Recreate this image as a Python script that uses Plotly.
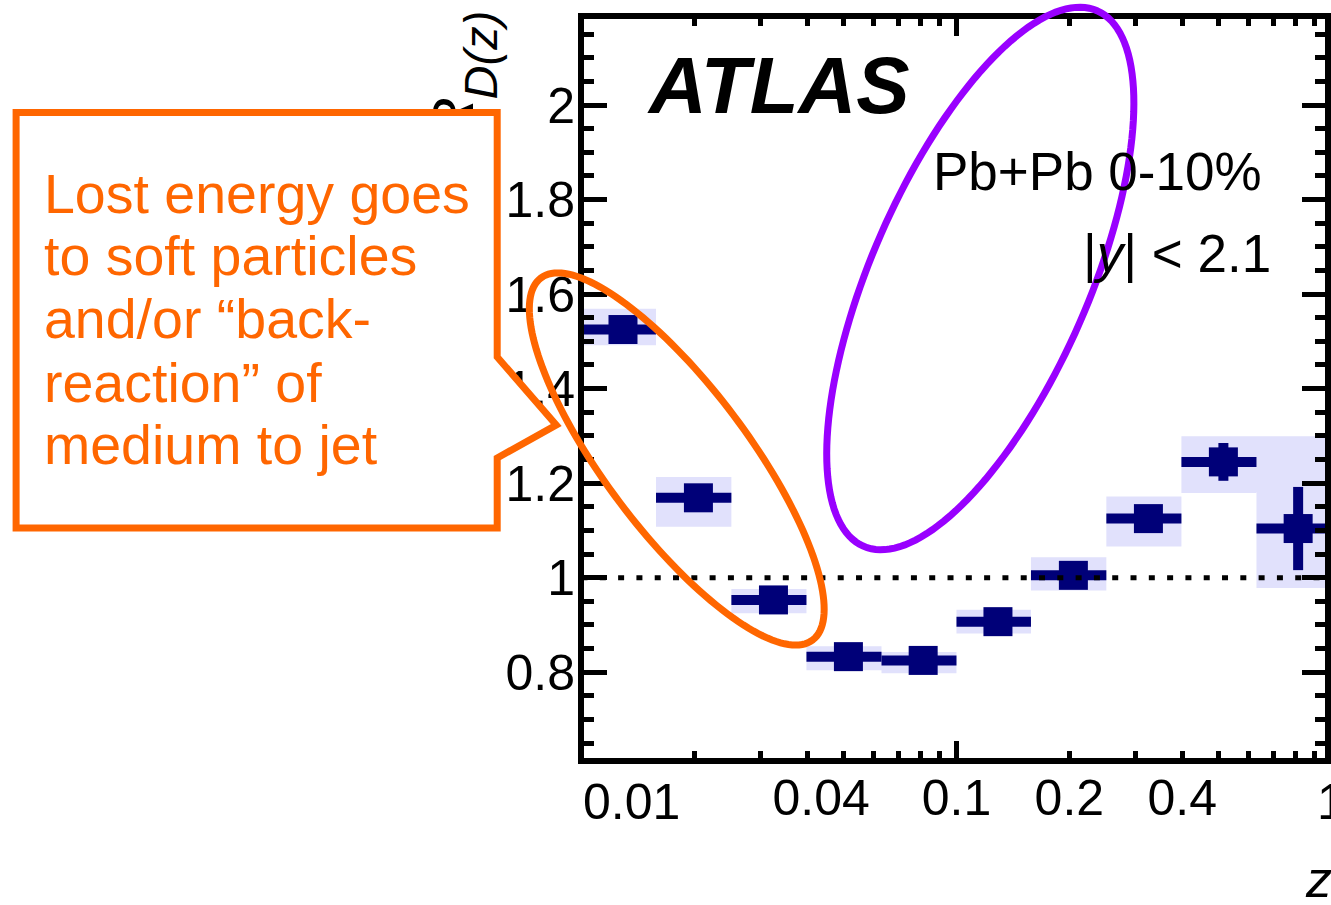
import numpy as np
import plotly.graph_objects as go

# ---------------- data ----------------
bin_edges = [0.01, 0.0158, 0.0251, 0.0398, 0.0631, 0.1, 0.158, 0.251, 0.398, 0.631, 1.0]
z_centers = [0.0129, 0.0205, 0.0325, 0.0515, 0.0815, 0.129, 0.205, 0.325, 0.515, 0.815]
rdz = [1.525, 1.169, 0.953, 0.833, 0.825, 0.907, 1.005, 1.125, 1.245, 1.104]
stat_err = [0.012, 0.012, 0.008, 0.008, 0.008, 0.008, 0.010, 0.015, 0.040, 0.088]
sys_up = [0.044, 0.044, 0.023, 0.022, 0.018, 0.025, 0.038, 0.047, 0.054, 0.195]
sys_down = [0.033, 0.061, 0.028, 0.029, 0.027, 0.025, 0.032, 0.059, 0.066, 0.126]

xtick_vals = [0.01, 0.04, 0.1, 0.2, 0.4, 1]
xtick_text = ["0.01", "0.04", "0.1", "0.2", "0.4", "1"]
xmajor_vals = [0.01, 0.1, 1]
xminor_vals = [0.02, 0.03, 0.04, 0.05, 0.06, 0.07, 0.08, 0.09,
               0.2, 0.3, 0.4, 0.5, 0.6, 0.7, 0.8, 0.9]
ytick_vals = [0.8, 1.0, 1.2, 1.4, 1.6, 1.8, 2.0]
ref_level = 1.0

callout_lines = ["Lost energy goes", "to soft particles", "and/or \u201cback-",
                 "reaction\u201d of", "medium to jet"]

# ---------------- layout geometry ----------------
W, H = 1331, 905
L, R, T, B = 584, 1331, 19, 758
PW, PH = R - L, B - T
X_DEC_PX, X_REF_PX = 378.0, 959.5      # px per decade, pixel of z = 0.1
Y_UNIT_PX, Y_ONE_PX = 472.7, 577.7     # px per unit, pixel of y = 1
xr = [-1 + (L - X_REF_PX) / X_DEC_PX, -1 + (R - X_REF_PX) / X_DEC_PX]
yr = [1 - (B - Y_ONE_PX) / Y_UNIT_PX, 1 + (Y_ONE_PX - T) / Y_UNIT_PX]

FONT = "Liberation Sans, Arial, Helvetica, sans-serif"
NAVY = "#000078"
LAV = "#E1E1FC"
ORANGE = "#FF6600"
PURPLE = "#9900FF"
TICK_FS = 50
XLABEL_CY = 801.5


def px2p(px, py):
    return (px - L) / PW, (B - py) / PH


def path_from_px(pts, close=True):
    s = ""
    for i, (px, py) in enumerate(pts):
        x, y = px2p(px, py)
        s += ("M" if i == 0 else "L") + f"{x:.5f},{y:.5f} "
    return s + ("Z" if close else "")


def ellipse_px(cx, cy, a, b, theta_deg, n=160):
    th = np.radians(theta_deg)
    t = np.linspace(0, 2 * np.pi, n, endpoint=False)
    xs = cx + a * np.cos(t) * np.cos(th) - b * np.sin(t) * np.sin(th)
    ys = cy - (a * np.cos(t) * np.sin(th) + b * np.sin(t) * np.cos(th))
    return list(zip(xs, ys))


def zpx(v):
    return X_REF_PX + X_DEC_PX * (np.log10(v) + 1)


fig = go.Figure()

# systematic uncertainty boxes
bx, by = [], []
for i in range(len(z_centers)):
    lo, hi = bin_edges[i], bin_edges[i + 1]
    y0, y1 = rdz[i] - sys_down[i], rdz[i] + sys_up[i]
    bx += [lo, hi, hi, lo, lo, None]
    by += [y0, y0, y1, y1, y0, None]
fig.add_trace(go.Scatter(x=bx, y=by, mode="lines", fill="toself", fillcolor=LAV,
                         line=dict(width=0, color=LAV), hoverinfo="skip"))

# dotted reference line at 1
fig.add_trace(go.Scatter(x=[bin_edges[0], bin_edges[-1]], y=[ref_level, ref_level],
                         mode="lines", xaxis="x2",
                         line=dict(color="black", width=5, dash="6px,12.3px"),
                         hoverinfo="skip"))

# data points
ex_plus = [bin_edges[i + 1] - z_centers[i] for i in range(len(z_centers))]
ex_minus = [z_centers[i] - bin_edges[i] for i in range(len(z_centers))]
fig.add_trace(go.Scatter(
    x=z_centers, y=rdz, mode="markers",
    marker=dict(symbol="square", size=29, color=NAVY, line=dict(width=0)),
    error_x=dict(type="data", symmetric=False, array=ex_plus, arrayminus=ex_minus,
                 thickness=10, width=0, color=NAVY),
    error_y=dict(type="data", array=stat_err, thickness=10, width=0, color=NAVY),
))

# ---------------- shapes ----------------
shapes = []
# y-axis title pieces (drawn under the callout box)
for (cx, cy, txt, fs) in [(447, 118, "R", 57), (476, 55, "D(z)", 47)]:
    x0, y0 = px2p(cx - 2, cy + 2)
    x1, y1 = px2p(cx + 2, cy - 2)
    shapes.append(dict(type="rect", xref="paper", yref="paper", x0=x0, x1=x1, y0=y0, y1=y1,
                       line=dict(width=0), fillcolor="rgba(0,0,0,0)", layer="above",
                       label=dict(text=txt, textangle=-90, textposition="middle center",
                                  font=dict(family=FONT, size=fs, color="black", style="italic"))))

# callout box with pointer
callout_pts = [(11.5, 112.5), (496.5, 112.5), (496.5, 357), (556, 425), (496.5, 458),
               (496.5, 528), (11.5, 528)]
shapes.append(dict(type="path", xref="paper", yref="paper", path=path_from_px(callout_pts),
                   fillcolor="white", line=dict(color=ORANGE, width=7), layer="above"))
# orange ellipse
shapes.append(dict(type="path", xref="paper", yref="paper",
                   path=path_from_px(ellipse_px(677.5, 459, 227, 72, -52.85)),
                   line=dict(color=ORANGE, width=7), layer="above"))
# purple ellipse
shapes.append(dict(type="path", xref="paper", yref="paper",
                   path=path_from_px(ellipse_px(983.5, 278.5, 292.5, 109.5, 66.2)),
                   line=dict(color=PURPLE, width=7), layer="above"))

# ---------------- annotations ----------------
ann = []


def add_text(text, px, py, xanchor, size, color="black", **kw):
    x, y = px2p(px, py)
    ann.append(dict(text=text, x=x, y=y, xref="paper", yref="paper", xanchor=xanchor,
                    yanchor="middle", showarrow=False, borderpad=0,
                    font=dict(family=FONT, size=size, color=color, **kw)))


add_text("<b><i>ATLAS</i></b>", 646, 113 - 0.3465 * 80, "left", 80)
add_text("Pb+Pb 0-10%", 1269, 190 - 0.3465 * 53, "right", 53)
add_text("|<i>y</i>| < 2.1", 1278, 272 - 0.3465 * 53, "right", 53)
add_text("<i>z</i>", 1310, 897 - 0.3465 * 52, "left", 52)
baselines = [213, 275, 338, 402, 464]
for line, bl in zip(callout_lines, baselines):
    add_text(line, 39, bl - 0.3465 * 55.5, "left", 55.5, color=ORANGE)

# edge tick labels: their ticks sit on/beyond the cropped plot edges, so the
# axis itself does not draw them; the first one is drawn offset as in the picture
add_text(xtick_text[0], zpx(xtick_vals[0]) + 50, XLABEL_CY, "center", TICK_FS)
add_text(xtick_text[-1], zpx(xtick_vals[-1]), XLABEL_CY, "center", TICK_FS)

# tick label text padded so that the drawn label sits where the picture shows it
pad = {"0.04": 2}
xtick_disp = ["\u00a0" * pad.get(t, 0) + t for t in xtick_text]

axis_common = dict(showgrid=False, zeroline=False, color="black")
fig.update_layout(
    width=W, height=H, margin=dict(l=L, r=W - R, t=T, b=H - B, pad=0),
    plot_bgcolor="white", paper_bgcolor="white", showlegend=False,
    xaxis=dict(type="log", range=xr, showline=True, linewidth=6, linecolor="black",
               mirror="ticks", ticks="inside", tickmode="array", tickvals=xmajor_vals,
               ticklen=17, tickwidth=5, tickcolor="black", showticklabels=False,
               minor=dict(tickmode="array", tickvals=xminor_vals, ticks="inside",
                          ticklen=7, tickwidth=5, tickcolor="black", showgrid=False),
               **axis_common),
    xaxis2=dict(type="log", range=xr, overlaying="x", anchor="y", side="bottom",
                showline=False, ticks="", tickmode="array", tickvals=xtick_vals,
                ticktext=xtick_disp, ticklabelstandoff=6,
                tickfont=dict(family=FONT, size=TICK_FS, color="black"),
                **axis_common),
    yaxis=dict(range=yr, showline=True, linewidth=6, linecolor="black", mirror="ticks",
               ticks="inside", tickmode="array", tickvals=ytick_vals, ticklen=23,
               tickwidth=5, tickcolor="black", ticklabelstandoff=-7,
               tickfont=dict(family=FONT, size=TICK_FS, color="black"),
               minor=dict(tickmode="linear", tick0=0, dtick=0.05, ticks="inside",
                          ticklen=10, tickwidth=5, tickcolor="black", showgrid=False),
               **axis_common),
    shapes=shapes, annotations=ann,
)

fig.write_html("out.html")
